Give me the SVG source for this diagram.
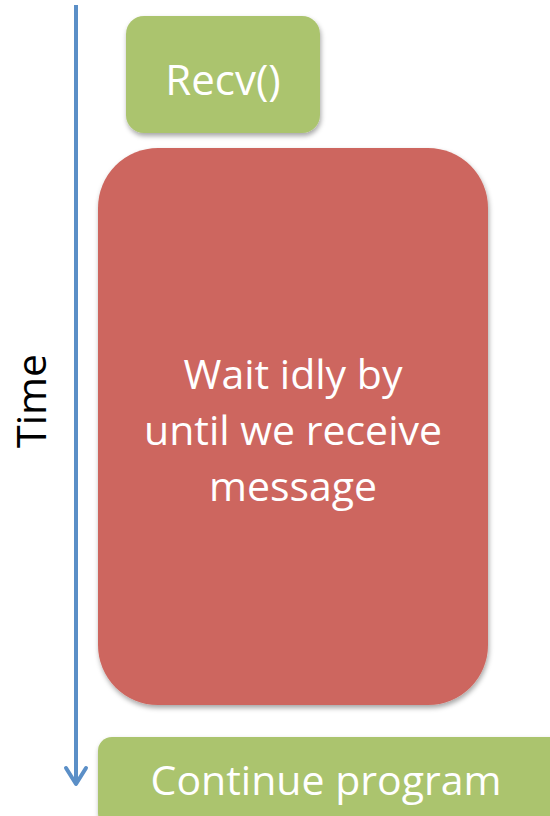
<svg xmlns="http://www.w3.org/2000/svg" width="550" height="816" viewBox="0 0 550 816">
<style>
.t{font-family:"Open Sans","Liberation Sans",sans-serif;fill:#ffffff;text-anchor:middle}
.g{fill:#abc46e}
.r{fill:#cd665e}
</style>
<defs>
<filter id="sh" x="-10%" y="-10%" width="130%" height="130%">
<feDropShadow dx="1" dy="3" stdDeviation="2.5" flood-color="#000" flood-opacity="0.35"/>
</filter>
</defs>
<g id="connectors">
<line x1="76" y1="5" x2="76" y2="784" stroke="#5b8fc7" stroke-width="4"/>
<polyline points="66,768 76,784 86,768" fill="none" stroke="#5b8fc7" stroke-width="4" stroke-linecap="round" stroke-linejoin="round"/>
</g>
<g id="time">
<text x="0" y="0" transform="translate(46,401) rotate(-90)" font-family="'Open Sans','Liberation Sans',sans-serif" font-size="41" fill="#000" text-anchor="middle">Time</text>
</g>
<g id="recv">
<rect class="g" x="126" y="16" width="194" height="117" rx="18" filter="url(#sh)"/>
<text class="t" x="223" y="95" font-size="42">Recv()</text>
</g>
<g id="wait">
<rect class="r" x="98" y="148" width="390" height="557" rx="60" filter="url(#sh)"/>
<text class="t" x="293" y="389" font-size="41">Wait idly by</text>
<text class="t" x="293" y="445" font-size="41">until we receive</text>
<text class="t" x="293" y="501" font-size="41">message</text>
</g>
<g id="continue">
<rect class="g" x="98" y="737" width="470" height="90" rx="14" filter="url(#sh)"/>
<text class="t" x="326" y="795" font-size="41">Continue program</text>
</g>
</svg>
